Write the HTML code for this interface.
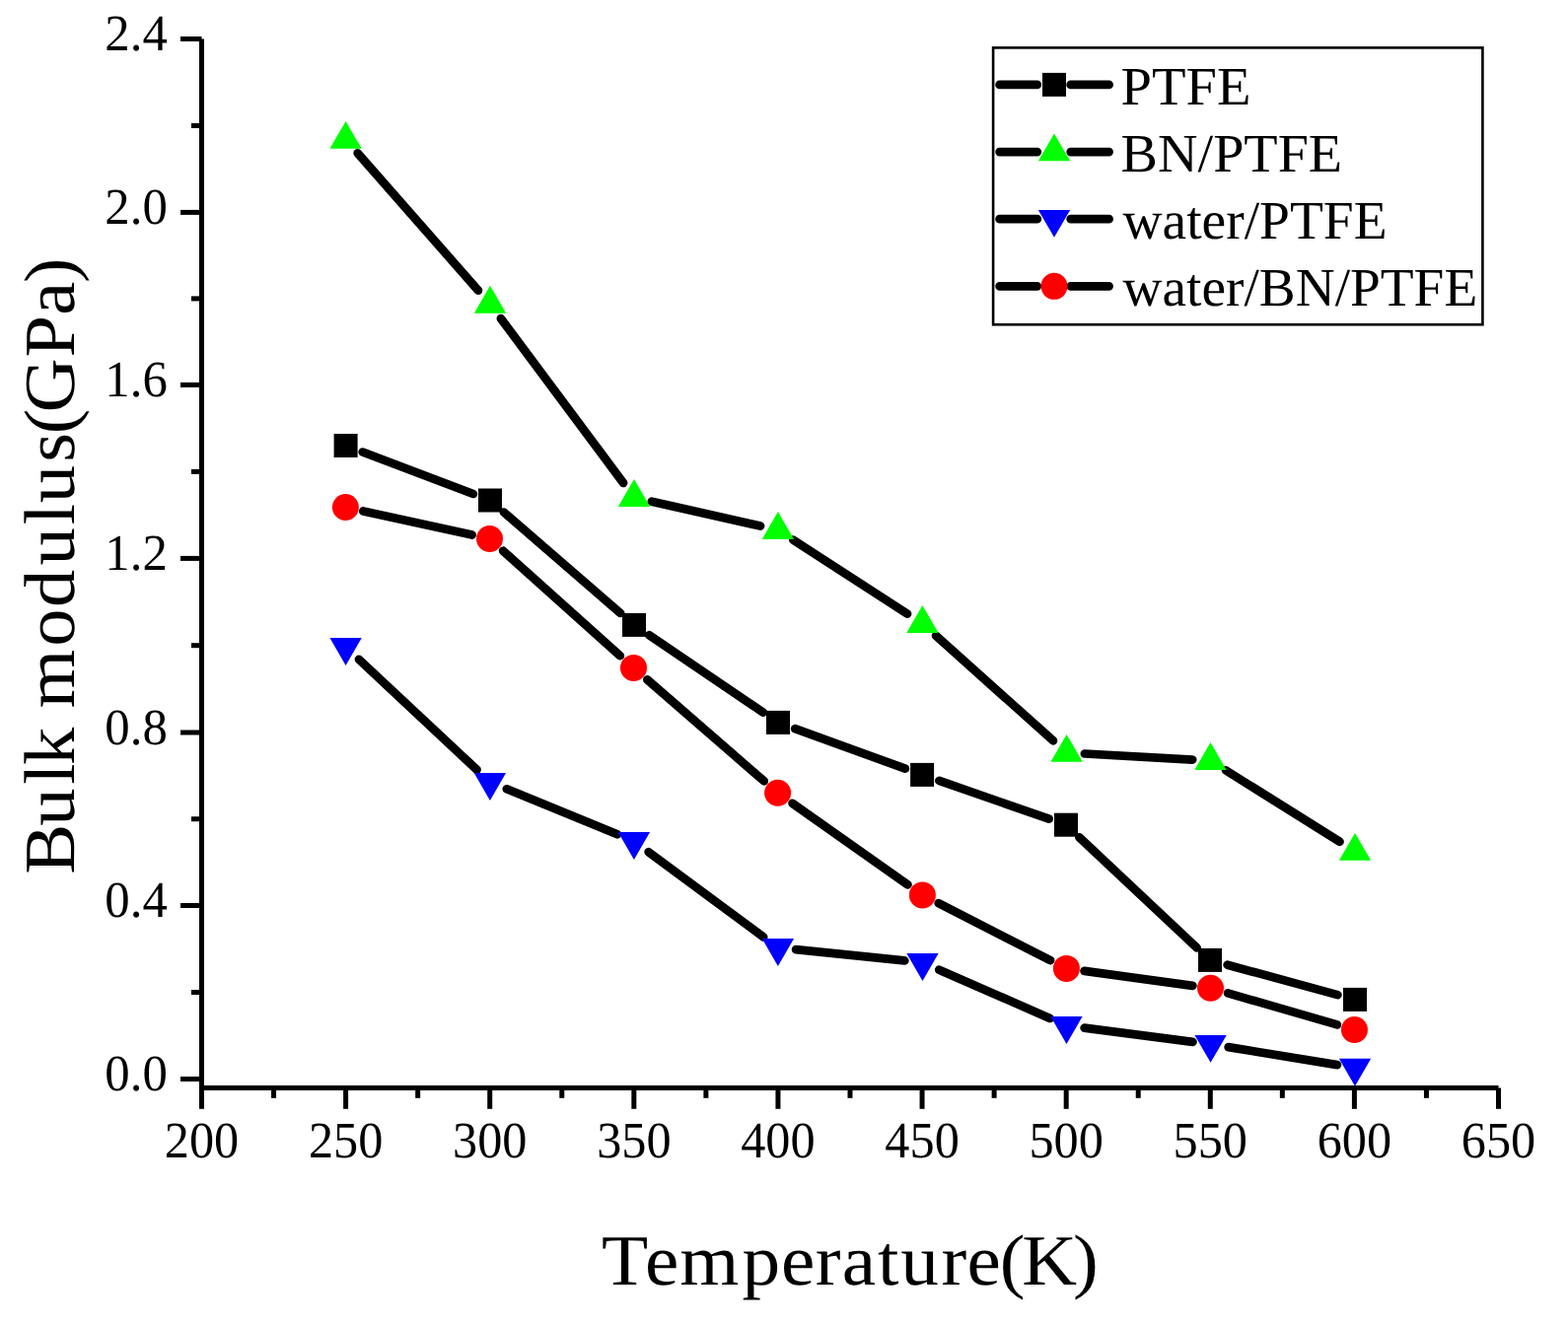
<!DOCTYPE html>
<html><head><meta charset="utf-8"><title>Bulk modulus vs Temperature</title>
<style>html,body{margin:0;padding:0;background:#fff;}body{width:1590px;height:1345px;overflow:hidden;}svg{display:block;}text{text-rendering:geometricPrecision;font-family:"Liberation Serif","Times New Roman",serif;fill:#000;}</style></head><body>
<svg width="1590" height="1345" viewBox="0 0 1590 1345">
<rect x="0" y="0" width="1590" height="1345" fill="#fff"/>
<g fill="#000">
<rect x="202.00" y="39.50" width="5.00" height="1066.50"/>
<rect x="202.00" y="1101.00" width="1317.50" height="5.00"/>
<rect x="183.00" y="1092.00" width="21.50" height="5.00"/>
<rect x="194.00" y="1004.00" width="10.50" height="5.00"/>
<rect x="183.00" y="916.00" width="21.50" height="5.00"/>
<rect x="194.00" y="828.25" width="10.50" height="5.00"/>
<rect x="183.00" y="740.50" width="21.50" height="5.00"/>
<rect x="194.00" y="652.20" width="10.50" height="5.00"/>
<rect x="183.00" y="563.90" width="21.50" height="5.00"/>
<rect x="194.00" y="475.90" width="10.50" height="5.00"/>
<rect x="183.00" y="387.90" width="21.50" height="5.00"/>
<rect x="194.00" y="300.40" width="10.50" height="5.00"/>
<rect x="183.00" y="212.90" width="21.50" height="5.00"/>
<rect x="194.00" y="124.95" width="10.50" height="5.00"/>
<rect x="183.00" y="37.00" width="21.50" height="5.00"/>
<rect x="202.00" y="1103.50" width="5.00" height="21.30"/>
<rect x="275.06" y="1103.50" width="5.00" height="10.30"/>
<rect x="348.11" y="1103.50" width="5.00" height="21.30"/>
<rect x="421.17" y="1103.50" width="5.00" height="10.30"/>
<rect x="494.22" y="1103.50" width="5.00" height="21.30"/>
<rect x="567.28" y="1103.50" width="5.00" height="10.30"/>
<rect x="640.33" y="1103.50" width="5.00" height="21.30"/>
<rect x="713.39" y="1103.50" width="5.00" height="10.30"/>
<rect x="786.44" y="1103.50" width="5.00" height="21.30"/>
<rect x="859.50" y="1103.50" width="5.00" height="10.30"/>
<rect x="932.56" y="1103.50" width="5.00" height="21.30"/>
<rect x="1005.61" y="1103.50" width="5.00" height="10.30"/>
<rect x="1078.67" y="1103.50" width="5.00" height="21.30"/>
<rect x="1151.72" y="1103.50" width="5.00" height="10.30"/>
<rect x="1224.78" y="1103.50" width="5.00" height="21.30"/>
<rect x="1297.83" y="1103.50" width="5.00" height="10.30"/>
<rect x="1370.89" y="1103.50" width="5.00" height="21.30"/>
<rect x="1443.94" y="1103.50" width="5.00" height="10.30"/>
<rect x="1517.00" y="1103.50" width="5.00" height="21.30"/>
</g>
<g font-size="52.00">
<text x="169.80" y="1106.10" text-anchor="end" textLength="63.50" lengthAdjust="spacingAndGlyphs">0.0</text>
<text x="169.80" y="930.10" text-anchor="end" textLength="63.50" lengthAdjust="spacingAndGlyphs">0.4</text>
<text x="169.80" y="754.60" text-anchor="end" textLength="63.50" lengthAdjust="spacingAndGlyphs">0.8</text>
<text x="169.80" y="578.00" text-anchor="end" textLength="63.50" lengthAdjust="spacingAndGlyphs">1.2</text>
<text x="169.80" y="402.00" text-anchor="end" textLength="63.50" lengthAdjust="spacingAndGlyphs">1.6</text>
<text x="169.80" y="227.00" text-anchor="end" textLength="63.50" lengthAdjust="spacingAndGlyphs">2.0</text>
<text x="169.80" y="51.10" text-anchor="end" textLength="63.50" lengthAdjust="spacingAndGlyphs">2.4</text>
<text x="204.50" y="1173.90" text-anchor="middle" textLength="75.40" lengthAdjust="spacingAndGlyphs">200</text>
<text x="350.61" y="1173.90" text-anchor="middle" textLength="75.40" lengthAdjust="spacingAndGlyphs">250</text>
<text x="496.72" y="1173.90" text-anchor="middle" textLength="75.40" lengthAdjust="spacingAndGlyphs">300</text>
<text x="642.83" y="1173.90" text-anchor="middle" textLength="75.40" lengthAdjust="spacingAndGlyphs">350</text>
<text x="788.94" y="1173.90" text-anchor="middle" textLength="75.40" lengthAdjust="spacingAndGlyphs">400</text>
<text x="935.06" y="1173.90" text-anchor="middle" textLength="75.40" lengthAdjust="spacingAndGlyphs">450</text>
<text x="1081.17" y="1173.90" text-anchor="middle" textLength="75.40" lengthAdjust="spacingAndGlyphs">500</text>
<text x="1227.28" y="1173.90" text-anchor="middle" textLength="75.40" lengthAdjust="spacingAndGlyphs">550</text>
<text x="1373.39" y="1173.90" text-anchor="middle" textLength="75.40" lengthAdjust="spacingAndGlyphs">600</text>
<text x="1519.50" y="1173.90" text-anchor="middle" textLength="75.40" lengthAdjust="spacingAndGlyphs">650</text>
</g>
<text transform="scale(1.0589 1)" x="576.06 617.55 650.85 710.70 748.02 780.81 806.23 840.41 862.52 901.50 926.03 957.39 978.73 1027.47" y="1302.90" font-size="73.00">Temperature(K)</text>
<text transform="translate(74.90 900.00) rotate(-90) scale(1.0482 1)" x="12.59 59.50 99.48 118.27 154.77 173.38 233.04 270.85 311.46 350.76 371.85 411.39 438.71 459.31 512.83 553.66 584.87" y="0" font-size="73.00">Bulk modulus(GPa)</text>
<path d="M367.71 458.49L479.89 501.01 M510.84 519.48L629.16 621.92 M658.15 644.17L773.85 722.63 M806.20 739.14L917.90 779.66 M952.38 791.92L1063.72 830.68 M1094.34 849.23L1213.66 961.37 M1244.66 978.70L1356.34 1009.10 M362.67 155.26L484.93 294.64 M507.92 323.08L632.08 489.92 M660.85 508.64L771.05 533.56 M804.25 547.56L920.05 622.64 M949.03 644.81L1067.97 751.29 M1099.87 764.51L1209.23 770.59 M1243.00 781.32L1358.50 853.78 M363.96 668.90L483.54 780.80 M513.83 800.26L625.97 846.34 M657.61 864.18L774.19 950.42 M807.10 963.16L917.30 974.44 M952.26 983.65L1064.74 1032.95 M1099.65 1042.65L1209.45 1056.85 M1245.66 1062.15L1355.94 1080.15 M368.28 518.42L478.62 542.58 M510.13 558.72L628.87 665.18 M656.32 689.40L774.78 792.30 M803.55 814.85L920.45 897.35 M951.70 916.22L1065.10 974.08 M1099.53 984.87L1209.37 999.83 M1245.08 1007.38L1355.87 1039.42" stroke="#000" stroke-width="8.70" stroke-linecap="round" fill="none"/>
<g><rect x="338.60" y="440.00" width="24.00" height="24.00" fill="#000000"/><rect x="485.00" y="495.50" width="24.00" height="24.00" fill="#000000"/><rect x="631.00" y="621.90" width="24.00" height="24.00" fill="#000000"/><rect x="777.00" y="720.90" width="24.00" height="24.00" fill="#000000"/><rect x="923.10" y="773.90" width="24.00" height="24.00" fill="#000000"/><rect x="1069.00" y="824.70" width="24.00" height="24.00" fill="#000000"/><rect x="1215.00" y="961.90" width="24.00" height="24.00" fill="#000000"/><rect x="1362.00" y="1001.90" width="24.00" height="24.00" fill="#000000"/><polygon points="350.60,122.90 366.75,150.80 334.45,150.80" fill="#00ff00"/><polygon points="497.00,289.80 513.15,317.70 480.85,317.70" fill="#00ff00"/><polygon points="643.00,486.00 659.15,513.90 626.85,513.90" fill="#00ff00"/><polygon points="788.90,519.00 805.05,546.90 772.75,546.90" fill="#00ff00"/><polygon points="935.40,614.00 951.55,641.90 919.25,641.90" fill="#00ff00"/><polygon points="1081.60,744.90 1097.75,772.80 1065.45,772.80" fill="#00ff00"/><polygon points="1227.50,753.00 1243.65,780.90 1211.35,780.90" fill="#00ff00"/><polygon points="1374.00,844.90 1390.15,872.80 1357.85,872.80" fill="#00ff00"/><polygon points="350.60,675.00 366.75,647.10 334.45,647.10" fill="#0000ff"/><polygon points="496.90,811.90 513.05,784.00 480.75,784.00" fill="#0000ff"/><polygon points="642.90,871.90 659.05,844.00 626.75,844.00" fill="#0000ff"/><polygon points="788.90,979.90 805.05,952.00 772.75,952.00" fill="#0000ff"/><polygon points="935.50,994.90 951.65,967.00 919.35,967.00" fill="#0000ff"/><polygon points="1081.50,1058.90 1097.65,1031.00 1065.35,1031.00" fill="#0000ff"/><polygon points="1227.60,1077.80 1243.75,1049.90 1211.45,1049.90" fill="#0000ff"/><polygon points="1374.00,1101.70 1390.15,1073.80 1357.85,1073.80" fill="#0000ff"/><circle cx="350.40" cy="514.50" r="13.50" fill="#ff0000"/><circle cx="496.50" cy="546.50" r="13.50" fill="#ff0000"/><circle cx="642.50" cy="677.40" r="13.50" fill="#ff0000"/><circle cx="788.60" cy="804.30" r="13.50" fill="#ff0000"/><circle cx="935.40" cy="907.90" r="13.50" fill="#ff0000"/><circle cx="1081.40" cy="982.40" r="13.50" fill="#ff0000"/><circle cx="1227.50" cy="1002.30" r="13.50" fill="#ff0000"/><circle cx="1373.45" cy="1044.50" r="13.50" fill="#ff0000"/></g>
<rect x="1007.10" y="48.40" width="496.30" height="280.85" fill="none" stroke="#000" stroke-width="2.60"/>
<text x="1136.60" y="106.10" font-size="55.00" textLength="131.84" lengthAdjust="spacingAndGlyphs">PTFE</text>
<text x="1136.61" y="173.90" font-size="55.00" textLength="224.51" lengthAdjust="spacingAndGlyphs">BN/PTFE</text>
<text x="1138.50" y="241.70" font-size="55.00" textLength="268.01" lengthAdjust="spacingAndGlyphs">water/PTFE</text>
<text x="1138.50" y="309.50" font-size="55.00" textLength="359.69" lengthAdjust="spacingAndGlyphs">water/BN/PTFE</text>
<path d="M1013.60 85.90L1051.80 85.90 M1085.70 85.90L1124.60 85.90 M1013.60 154.05L1051.80 154.05 M1085.70 154.05L1124.60 154.05 M1013.60 222.20L1051.80 222.20 M1085.70 222.20L1124.60 222.20 M1013.60 290.35L1051.80 290.35 M1085.70 290.35L1124.60 290.35" stroke="#000" stroke-width="8.70" stroke-linecap="round" fill="none"/>
<g><rect x="1057.00" y="73.90" width="24.00" height="24.00" fill="#000000"/><polygon points="1069.00,135.45 1085.15,163.35 1052.85,163.35" fill="#00ff00"/><polygon points="1069.00,240.80 1085.15,212.90 1052.85,212.90" fill="#0000ff"/><circle cx="1069.00" cy="290.35" r="13.50" fill="#ff0000"/></g>
</svg></body></html>
